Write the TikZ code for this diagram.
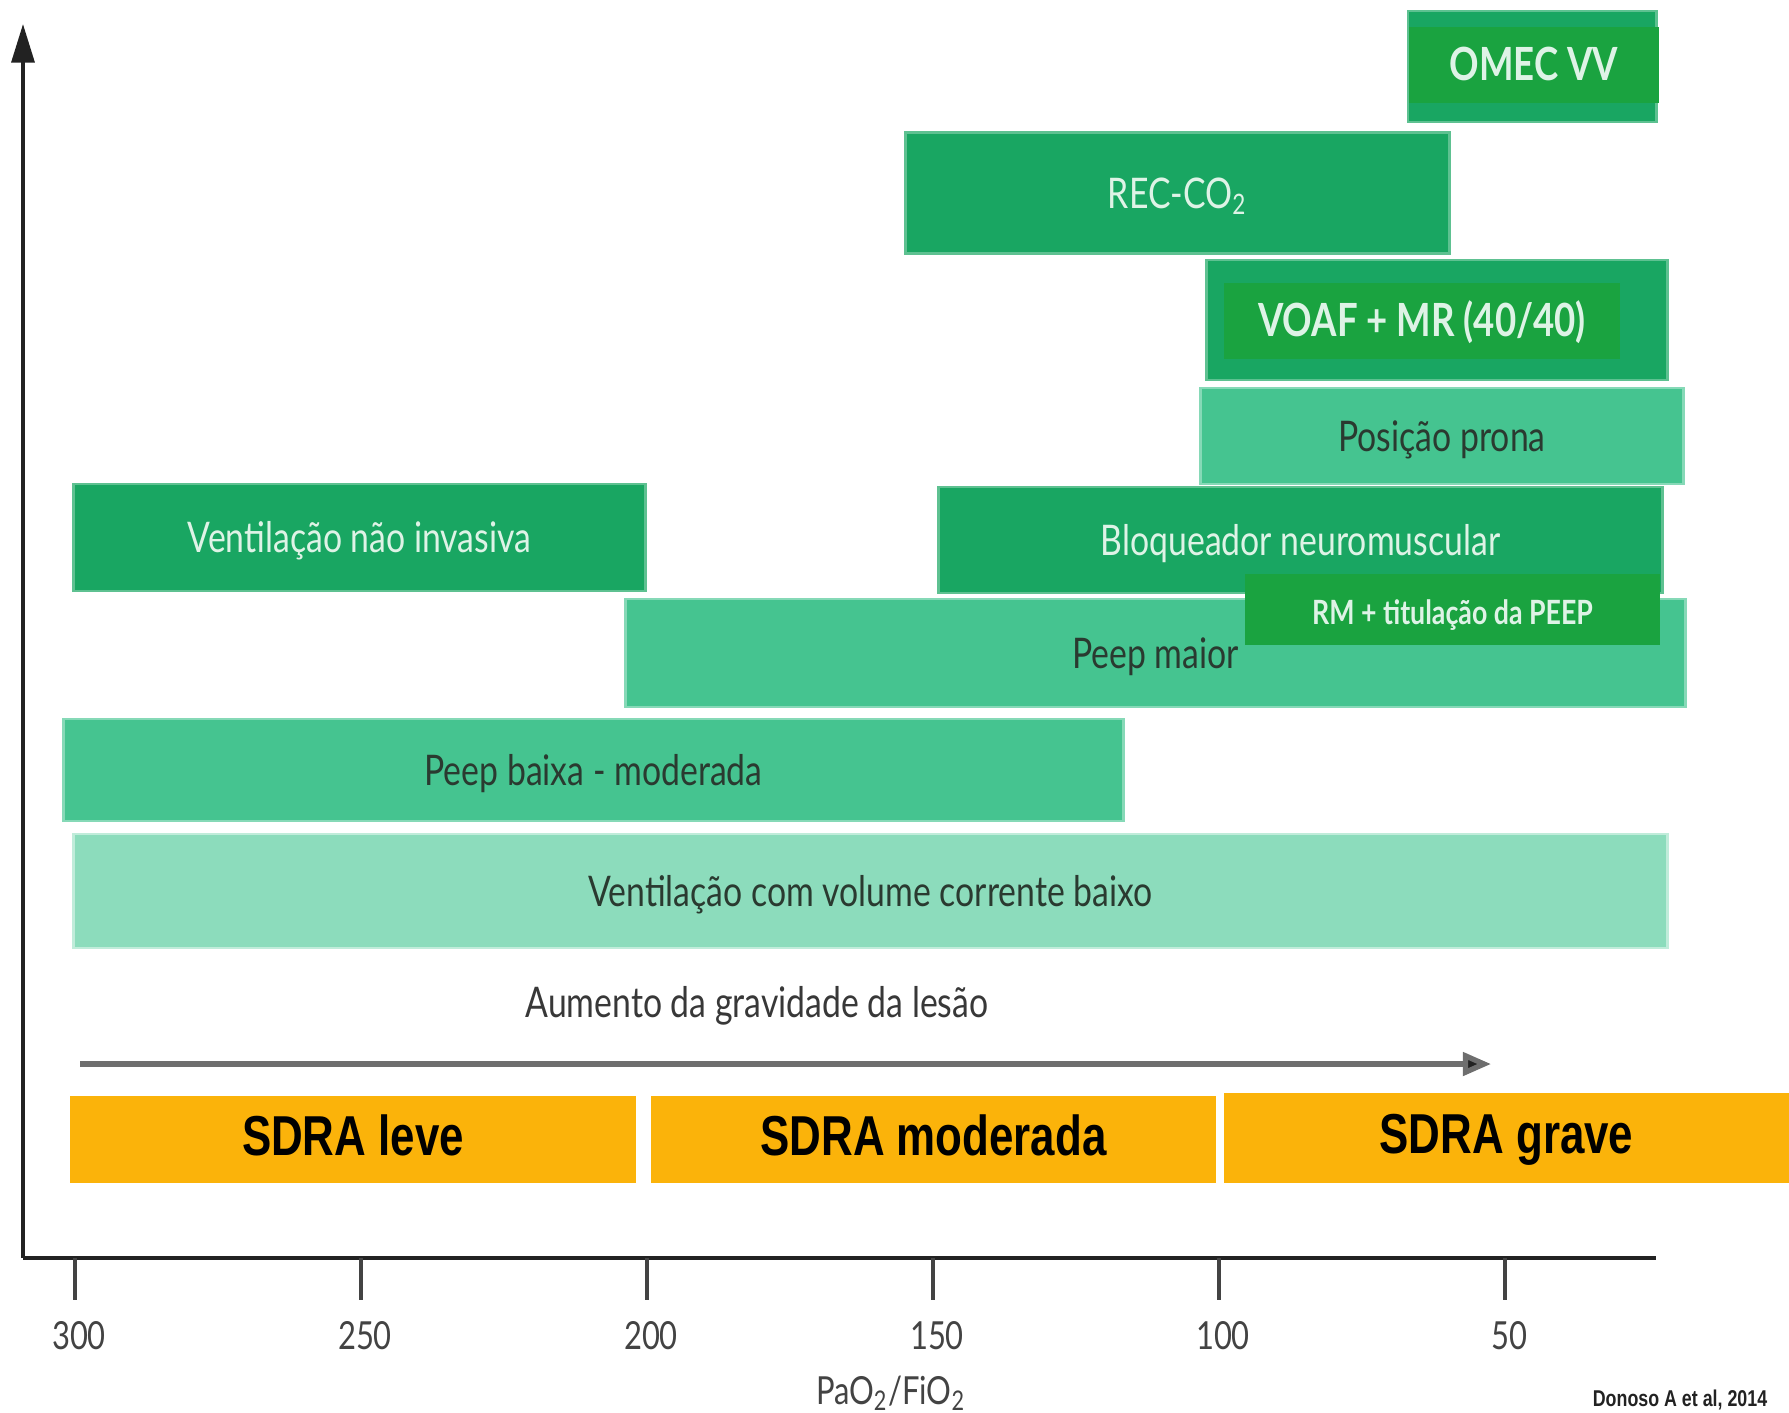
\documentclass[tikz,border=0pt]{standalone}
\usepackage{fontspec}
\setmainfont{Lato}[FakeStretch=0.8]
\newfontfamily\sdrafamily{Liberation Sans}[FakeStretch=0.78]
\usetikzlibrary{arrows.meta, positioning}

\definecolor{gmid}{RGB}{25,166,98}
\definecolor{gbright}{RGB}{26,163,64}
\definecolor{glight}{RGB}{69,196,144}
\definecolor{gpale}{RGB}{140,220,188}
\definecolor{sdraorange}{RGB}{251,179,10}
\definecolor{lighttext}{RGB}{222,243,230}
\definecolor{darktext}{RGB}{42,58,48}
\definecolor{axisgray}{RGB}{34,34,34}
\definecolor{arrowgray}{RGB}{110,110,110}

\begin{document}
\begin{tikzpicture}[
 x=0.01cm, y=-0.01cm,
 bar/.style={rectangle, inner sep=0pt, line width=0.8pt, text height=0.86em, text depth=0pt, font=\fontsize{12}{14}\selectfont},
 midbar/.style={bar, fill=gmid, draw=gmid!70!white, text=lighttext},
 brightbar/.style={bar, fill=gbright, text=lighttext, font=\bfseries\fontsize{13}{15}\selectfont},
 lightbar/.style={bar, fill=glight, draw=glight!65!white, text=darktext},
 palebar/.style={bar, fill=gpale, draw=gpale!55!white, text=darktext},
 sdra/.style={rectangle, inner sep=0pt, minimum width=5.65cm, minimum height=0.87cm, text height=0.9em, text depth=0pt, fill=sdraorange, text=black, font=\sdrafamily\bfseries\fontsize{16}{18}\selectfont},
 axisline/.style={axisgray, line width=1.1pt},
 tick/.style={axisgray!85, line width=0.9pt},
 ticklabel/.style={text=axisgray!85, font=\fontsize{11}{13}\selectfont},
 sevarrow/.style={arrowgray, line width=1.5pt, -{Triangle[length=8pt, width=6.5pt, fill=axisgray]}}
]
\useasboundingbox (0,0) rectangle (1789,1412);

% axes
\coordinate (origin) at (23,1258);
\coordinate (ytop) at (23,24);
\coordinate (xend) at (1656,1258);
\draw[axisline, -{Triangle[length=11pt, width=6.5pt]}] (origin) -- (ytop);
\draw[axisline] (origin) -- (xend);

\foreach \v in {300,250,...,50} {
  \draw[tick] ({75+(300-\v)*5.72},1258) -- ++(0,42);
  \node[ticklabel] (tick\v) at ({79+(300-\v)*5.72},1336) {\v};
}
\node[ticklabel] (xlabel) at (891,1393) {PaO\textsubscript{2}/FiO\textsubscript{2}};
\node[font=\sdrafamily\bfseries\fontsize{6.5}{8}\selectfont, text=axisgray] (source) at (1680,1400) {Donoso A et al, 2014};

% therapies
\node[midbar, minimum width=2.48cm, minimum height=1.11cm] (omecbox) at (1532,66.5) {};
\node[brightbar, minimum width=2.50cm, minimum height=0.76cm] (omec) at (1534,65) {OMEC VV};
\node[midbar, minimum width=5.43cm, minimum height=1.21cm] (reco2) at (1177.5,193) {REC-CO\textsubscript{2}};
\node[midbar, minimum width=4.60cm, minimum height=1.20cm] (voafbox) at (1437,320) {};
\node[brightbar, minimum width=3.96cm, minimum height=0.76cm] (voaf) at (1422,321) {VOAF + MR (40/40)};
\node[lightbar, minimum width=4.82cm, minimum height=0.96cm] (prona) at (1442,436) {Posição prona};
\node[midbar, minimum width=5.71cm, minimum height=1.07cm] (vni) at (359.5,537.5) {Ventilação não invasiva};
\node[midbar, minimum width=7.23cm, minimum height=1.06cm] (bloq) at (1300.5,540) {Bloqueador neuromuscular};
\node[lightbar, minimum width=10.59cm, minimum height=1.08cm] (peepmaior) at (1155.5,653) {Peep maior};
\node[brightbar, font=\bfseries\fontsize{9.5}{11}\selectfont, minimum width=4.15cm, minimum height=0.71cm] (rmpeep) at (1452.5,609.5) {RM + titulação da PEEP};
\node[lightbar, minimum width=10.59cm, minimum height=1.02cm] (peepbaixa) at (593.5,770) {Peep baixa - moderada};
\node[palebar, minimum width=15.93cm, minimum height=1.14cm] (vtbaixo) at (870.5,891) {Ventilação com volume corrente baixo};

% severity
\node[text=axisgray!90, font=\fontsize{12}{14}\selectfont] (gravidade) at (757,1006) {Aumento da gravidade da lesão};
\coordinate (sevstart) at (80,1064);
\coordinate (sevend) at (1491,1064);
\draw[sevarrow] (sevstart) -- (sevend);

\node[sdra] (leve) at (353,1139.5) {SDRA leve};
\node[sdra] (moderada) at (933.5,1139.5) {SDRA moderada};
\node[sdra, minimum height=0.90cm] (grave) at (1506.5,1138) {SDRA grave};
\end{tikzpicture}
\end{document}
